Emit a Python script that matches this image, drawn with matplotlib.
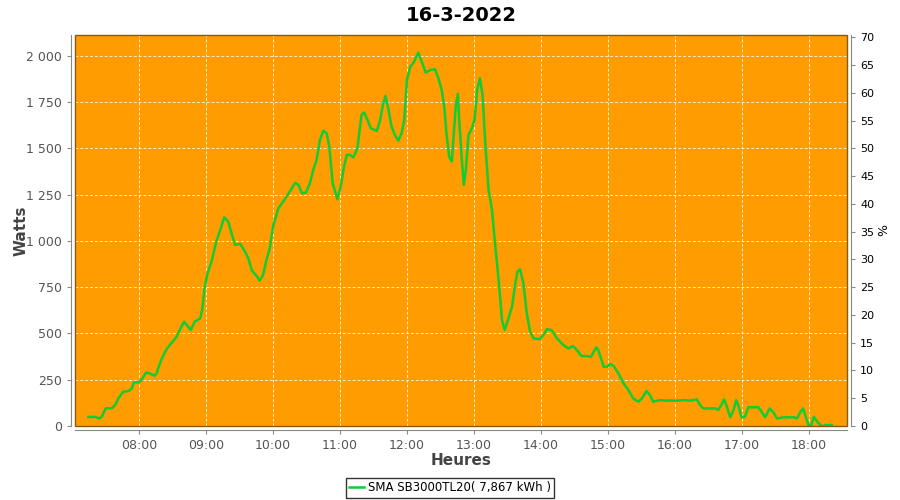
import matplotlib.pyplot as plt
from matplotlib.ticker import FuncFormatter, MultipleLocator
from matplotlib.patches import Rectangle

# Production SMA SB3000TL20 - 16-3-2022
# heures décimales / puissance en W
hours = [7.24, 7.34, 7.40, 7.44, 7.50, 7.59, 7.64, 7.69, 7.76, 7.84, 7.89, 7.92, 8.00,
         8.04, 8.10, 8.15, 8.23, 8.26, 8.30, 8.35, 8.41, 8.48, 8.56, 8.63, 8.67, 8.71,
         8.77, 8.83, 8.91, 8.94, 8.98, 9.02, 9.08, 9.15, 9.21, 9.27, 9.33, 9.38, 9.43,
         9.51, 9.58, 9.63, 9.68, 9.76, 9.80, 9.85, 9.90, 9.95, 10.00, 10.08, 10.18,
         10.25, 10.33, 10.38, 10.43, 10.49, 10.55, 10.60, 10.65, 10.70, 10.75, 10.80,
         10.84, 10.89, 10.96, 11.01, 11.06, 11.10, 11.15, 11.20, 11.26, 11.32, 11.36,
         11.41, 11.46, 11.55, 11.60, 11.64, 11.68, 11.72, 11.77, 11.82, 11.87, 11.92,
         11.96, 12.00, 12.05, 12.10, 12.17, 12.22, 12.28, 12.35, 12.42, 12.47, 12.52,
         12.56, 12.59, 12.63, 12.67, 12.70, 12.73, 12.76, 12.78, 12.82, 12.85, 12.88,
         12.92, 12.97, 13.01, 13.05, 13.09, 13.13, 13.17, 13.22, 13.27, 13.33, 13.37,
         13.42, 13.46, 13.51, 13.57, 13.62, 13.65, 13.69, 13.74, 13.79, 13.84, 13.89,
         13.98, 14.04, 14.09, 14.16, 14.24, 14.33, 14.41, 14.48, 14.54, 14.61, 14.69,
         14.75, 14.79, 14.83, 14.86, 14.90, 14.94, 14.99, 15.04, 15.09, 15.16, 15.23,
         15.31, 15.38, 15.46, 15.51, 15.58, 15.63, 15.68, 15.78, 15.88, 16.03, 16.13,
         16.23, 16.33, 16.38, 16.43, 16.53, 16.61, 16.65, 16.71, 16.74, 16.78, 16.83,
         16.88, 16.92, 16.95, 17.00, 17.05, 17.10, 17.17, 17.25, 17.30, 17.35, 17.42,
         17.47, 17.53, 17.63, 17.78, 17.83, 17.88, 17.92, 17.95, 18.00, 18.04, 18.08,
         18.13, 18.19, 18.28, 18.35]
watts = [49, 49, 41, 50, 96, 96, 113, 150, 185, 189, 204, 236, 236,
         254, 288, 285, 272, 285, 330, 375, 416, 447, 483, 537, 564, 546,
         519, 564, 582, 627, 753, 825, 888, 996, 1059, 1128, 1104, 1042, 978,
         984, 942, 906, 843, 807, 785, 816, 897, 960, 1080, 1177, 1228,
         1267, 1315, 1303, 1258, 1261, 1312, 1384, 1438, 1546, 1596, 1582,
         1510, 1312, 1225, 1294, 1402, 1465, 1465, 1452, 1501, 1681, 1694,
         1654, 1609, 1595, 1654, 1735, 1784, 1717, 1618, 1573, 1542, 1582,
         1654, 1870, 1942, 1964, 2018, 1969, 1910, 1924, 1928, 1879, 1816,
         1717, 1582, 1456, 1429, 1582, 1735, 1795, 1654, 1438, 1303, 1384,
         1573, 1609, 1654, 1816, 1879, 1789, 1528, 1276, 1168, 934, 789,
         573, 519, 573, 645, 771, 834, 847, 771, 609, 510, 474,
         469, 492, 523, 519, 474, 440, 419, 432, 410, 378, 378,
         374, 401, 425, 410, 365, 320, 320, 335, 324, 284, 234,
         194, 149, 131, 149, 189, 167, 131, 140, 137, 137, 140,
         137, 144, 113, 95, 95, 95, 86, 122, 144, 104, 47,
         86, 140, 113, 47, 50, 101, 101, 101, 77, 47, 95,
         77, 41, 47, 47, 41, 77, 95, 59, 5, 5, 50,
         23, 0, 5, 5]
title = '16-3-2022'
serie = 'SMA SB3000TL20( 7,867 kWh )'
puissance_max = 3000  # W -> 100 %

orange = '#ff9c00'
vert = '#11cc33'
gris = '#555555'

fig = plt.figure(figsize=(9, 5), dpi=100)
ax = fig.add_axes([75 / 900, 1 - 426 / 500, (847 - 75) / 900, (426 - 35) / 500])
ax.set_facecolor(orange)

ax.plot(hours, watts, color=vert, linewidth=1.8, label=serie, zorder=3)

ymax = 2113
ax.set_xlim(7.04, 18.575)
ax.set_ylim(0, ymax)
ax.xaxis.set_major_locator(MultipleLocator(1))
ax.yaxis.set_major_locator(MultipleLocator(250))
ax.xaxis.set_major_formatter(FuncFormatter(lambda v, p: '%02d:00' % int(round(v))))
ax.yaxis.set_major_formatter(FuncFormatter(lambda v, p: f'{int(v):,}'.replace(',', ' ')))
ax.grid(True, color='white', linestyle=(0, (3, 2)), linewidth=0.7, alpha=0.8)

for side in ['top', 'right']:
    ax.spines[side].set_visible(False)
for side in ['left', 'bottom']:
    ax.spines[side].set_position(('outward', 3))
    ax.spines[side].set_color('#888888')
ax.tick_params(colors='#888888', labelcolor=gris, labelsize=9, length=3)
ax.add_patch(Rectangle((0, 0), 1, 1, transform=ax.transAxes, fill=False,
                       edgecolor='#8a5a10', linewidth=1, zorder=4, clip_on=False))

ax.set_xlabel('Heures', fontsize=11, fontweight='bold', color='#444444')
ax.set_ylabel('Watts', fontsize=11, fontweight='bold', color='#444444')
ax.xaxis.set_label_coords(0.5, -0.07)
ax.yaxis.set_label_coords(-0.06, 0.5)
ax.set_title(title, fontsize=14, fontweight='bold', pad=10)

ax2 = ax.twinx()
ax2.set_ylim(0, ymax / puissance_max * 100)
ax2.yaxis.set_major_locator(MultipleLocator(5))
for side in ['top', 'left', 'bottom']:
    ax2.spines[side].set_visible(False)
ax2.spines['right'].set_position(('outward', 3))
ax2.spines['right'].set_color('#888888')
ax2.tick_params(colors='#888888', labelcolor='black', labelsize=8, length=3)
ax2.set_ylabel('%', fontsize=9)
ax2.yaxis.set_label_coords(1.039, 0.5)

leg = fig.legend(loc='center', bbox_to_anchor=(0.5, 0.024), fontsize=8.5, frameon=True,
                 fancybox=False, handlelength=1.3, handletextpad=0.3, borderpad=0.3)
leg.get_frame().set_edgecolor('black')
leg.get_frame().set_linewidth(1)

plt.savefig('out.png')
